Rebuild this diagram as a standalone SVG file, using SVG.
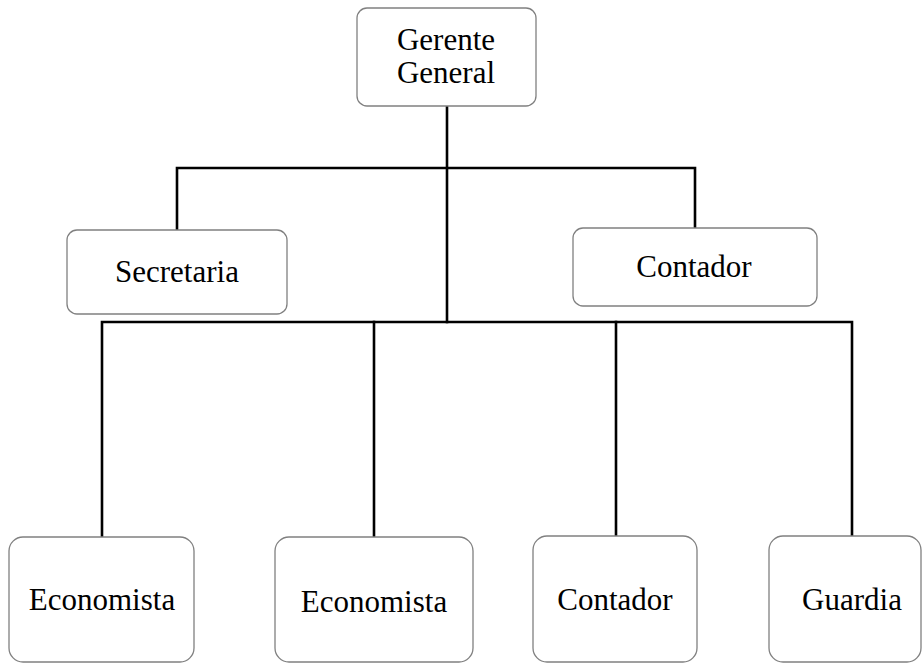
<svg xmlns="http://www.w3.org/2000/svg" width="922" height="664" viewBox="0 0 922 664">
<style>
.box{fill:#fff;stroke:#808080;stroke-width:1.3}
.lbl{font-family:"Liberation Serif","Times New Roman",serif;font-size:31px;fill:#000;text-anchor:middle}
.con{fill:none;stroke:#000;stroke-width:2.6;stroke-linecap:square;stroke-linejoin:miter}
</style>
<rect width="922" height="664" fill="#fff"/>
<g id="connectors">
<path class="con" d="M447,107 V322"/>
<path class="con" d="M177,229 V168 H695 V227"/>
<path class="con" d="M102,536 V322 H852 V536"/>
<path class="con" d="M374,322 V536"/>
<path class="con" d="M616,322 V536"/>
</g>
<g id="gerente">
<rect class="box" x="357" y="8" width="179" height="98" rx="10"/>
<text class="lbl" x="446" y="50">Gerente</text>
<text class="lbl" x="446" y="83">General</text>
</g>
<g id="secretaria">
<rect class="box" x="67" y="230" width="220" height="84" rx="10"/>
<text class="lbl" x="177" y="282">Secretaria</text>
</g>
<g id="contador1">
<rect class="box" x="573" y="228" width="244" height="78" rx="10"/>
<text class="lbl" x="694" y="277">Contador</text>
</g>
<g id="economista1">
<rect class="box" x="9" y="537" width="185" height="125" rx="14"/>
<text class="lbl" x="102" y="610">Economista</text>
</g>
<g id="economista2">
<rect class="box" x="275" y="537" width="198" height="125" rx="14"/>
<text class="lbl" x="374" y="612">Economista</text>
</g>
<g id="contador2">
<rect class="box" x="533" y="536" width="164" height="126" rx="14"/>
<text class="lbl" x="615" y="610">Contador</text>
</g>
<g id="guardia">
<rect class="box" x="769" y="536" width="152" height="126" rx="14"/>
<text class="lbl" x="852" y="610">Guardia</text>
</g>
</svg>
